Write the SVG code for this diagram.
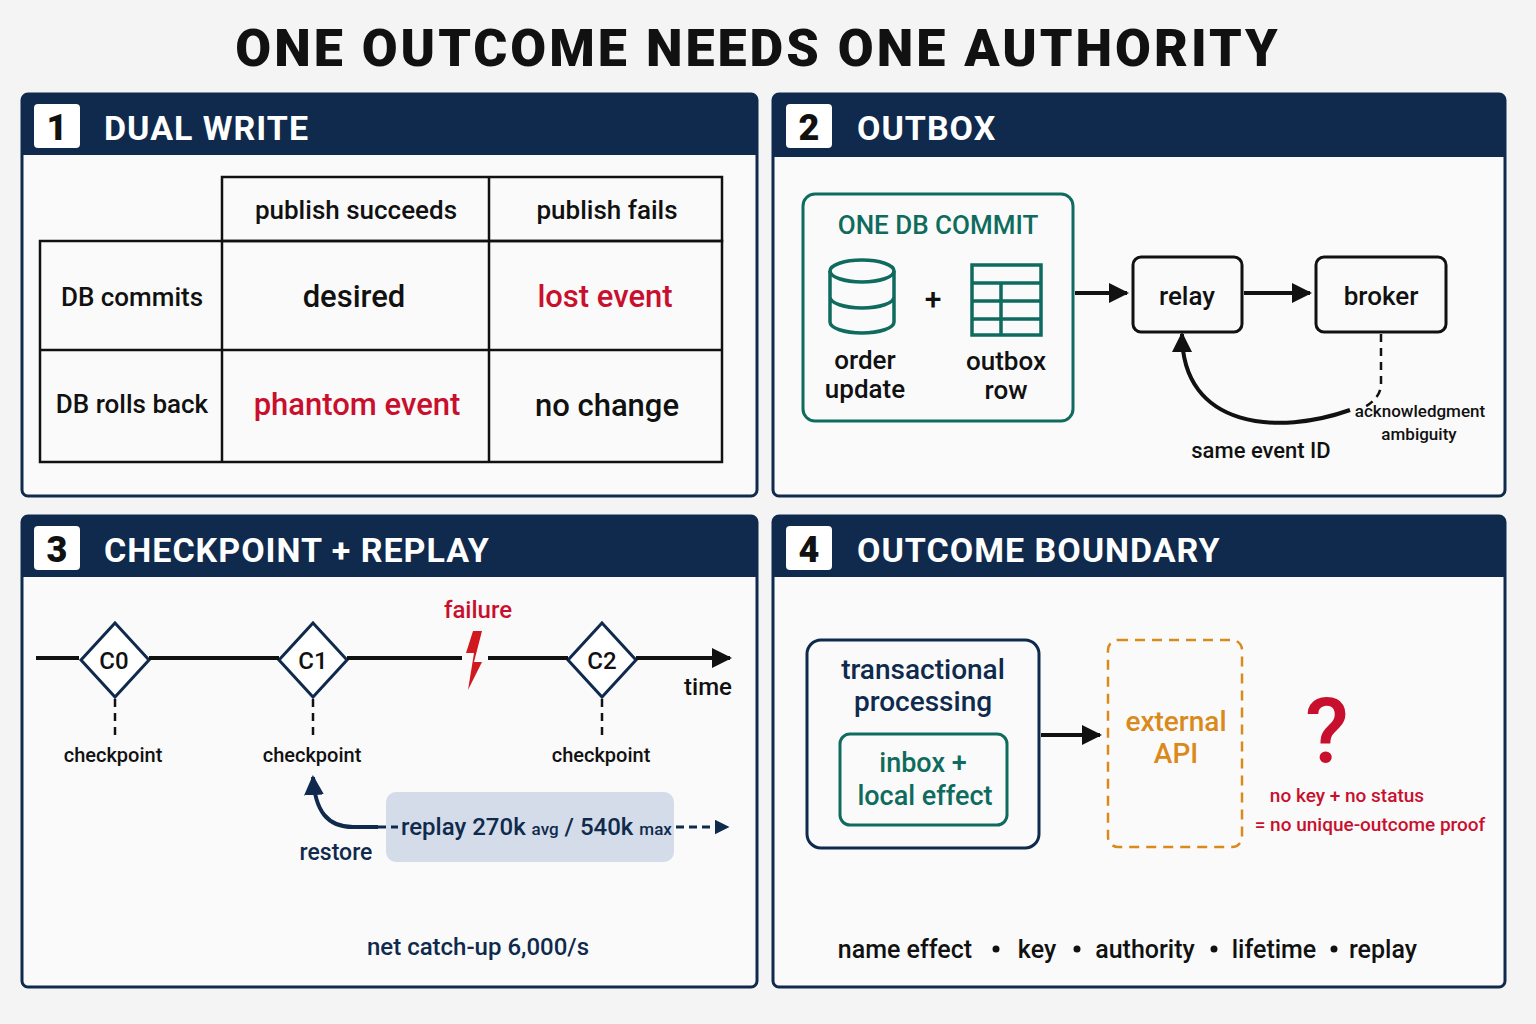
<svg xmlns="http://www.w3.org/2000/svg" width="1536" height="1024" viewBox="0 0 1536 1024">
<defs>
<style>
text{font-family:Roboto,"Liberation Sans",sans-serif;font-weight:500;fill:#111}
.title{font-size:52px;font-weight:900;letter-spacing:3px}
.hd{font-size:34px;font-weight:700;fill:#fff;letter-spacing:1px}
.num{font-size:36px;font-weight:900;fill:#111}
.panel{fill:#fafafa;stroke:#0f2a4d;stroke-width:3}
.bar{fill:#0f2a4d}
.cell{fill:none;stroke:#111;stroke-width:2.5}
.t26{font-size:26px}
.t30{font-size:31px}
.red{fill:#c8102e}
.teal{fill:#0e6b5e}
.navy{fill:#0f2a4d}
.orange{fill:#d98a1a}
.line{stroke:#111;stroke-width:4;fill:none}
.dash{stroke:#111;stroke-width:2.5;stroke-dasharray:8 6;fill:none}
</style>
<marker id="ah" viewBox="0 0 10 10" refX="9" refY="5" markerWidth="5" markerHeight="5" orient="auto"><path d="M0,0L10,5L0,10z" fill="#111"/></marker>
<marker id="ahn" viewBox="0 0 10 10" refX="9" refY="5" markerWidth="5" markerHeight="5" orient="auto"><path d="M0,0L10,5L0,10z" fill="#0f2a4d"/></marker>
</defs>
<rect width="1536" height="1024" fill="#f4f4f4"/>
<text class="title" x="758" y="66" text-anchor="middle">ONE OUTCOME NEEDS ONE AUTHORITY</text>

<g id="panel1">
<rect class="panel" x="22" y="94" width="735" height="402" rx="6"/>
<path class="bar" d="M28,94h723a6,6 0 0 1 6,6v55h-735v-55a6,6 0 0 1 6,-6z"/>
<rect x="34" y="104" width="46" height="44" rx="4" fill="#fff"/>
<text class="num" x="57" y="140" text-anchor="middle">1</text>
<text class="hd" x="104" y="140">DUAL WRITE</text>
<rect class="cell" x="222" y="177" width="500" height="64"/>
<rect class="cell" x="40" y="241" width="682" height="221"/>
<line class="cell" x1="489" y1="177" x2="489" y2="462"/>
<line class="cell" x1="222" y1="241" x2="222" y2="462"/>
<line class="cell" x1="40" y1="350" x2="722" y2="350"/>
<text class="t26" x="356" y="219" text-anchor="middle">publish succeeds</text>
<text class="t26" x="607" y="219" text-anchor="middle">publish fails</text>
<text class="t26" x="132" y="306" text-anchor="middle">DB commits</text>
<text class="t26" x="132" y="413" text-anchor="middle" font-size="25">DB rolls back</text>
<text class="t30" x="354" y="307" text-anchor="middle">desired</text>
<text class="t30 red" x="605" y="307" text-anchor="middle">lost event</text>
<text class="t30 red" x="357" y="415" text-anchor="middle">phantom event</text>
<text class="t30" x="607" y="416" text-anchor="middle">no change</text>
</g>

<g id="panel2">
<rect class="panel" x="773" y="94" width="732" height="402" rx="6"/>
<path class="bar" d="M779,94h720a6,6 0 0 1 6,6v57h-732v-57a6,6 0 0 1 6,-6z"/>
<rect x="786" y="104" width="46" height="44" rx="4" fill="#fff"/>
<text class="num" x="809" y="140" text-anchor="middle">2</text>
<text class="hd" x="857" y="140">OUTBOX</text>
</g>
<g id="commit">
<rect x="803" y="194" width="270" height="227" rx="12" fill="none" stroke="#0e6b5e" stroke-width="3"/>
<text class="teal" x="938" y="234" text-anchor="middle" font-size="26" font-weight="700">ONE DB COMMIT</text>
<g fill="none" stroke="#0e6b5e" stroke-width="3.5">
<ellipse cx="862" cy="271" rx="32" ry="11"/>
<path d="M830,271v51a32,11 0 0 0 64,0v-51M830,297a32,11 0 0 0 64,0"/>
<rect x="972" y="265" width="69" height="70"/>
<path d="M972,283h69M972,301h69M972,319h69M1001,283v52"/>
</g>
<text x="933" y="309" text-anchor="middle" font-size="30">+</text>
<text class="t26" x="865" y="369" text-anchor="middle" font-size="25">order</text>
<text class="t26" x="865" y="398" text-anchor="middle" font-size="25">update</text>
<text class="t26" x="1006" y="370" text-anchor="middle" font-size="25">outbox</text>
<text class="t26" x="1006" y="399" text-anchor="middle" font-size="25">row</text>
</g>
<g id="relay"><rect x="1133" y="257" width="109" height="75" rx="8" fill="none" stroke="#111" stroke-width="3"/><text class="t26" x="1187" y="305" text-anchor="middle">relay</text></g>
<g id="broker"><rect x="1316" y="257" width="130" height="75" rx="8" fill="none" stroke="#111" stroke-width="3"/><text class="t26" x="1381" y="305" text-anchor="middle">broker</text></g>
<text x="1420" y="417" text-anchor="middle" font-size="17">acknowledgment</text>
<text x="1419" y="440" text-anchor="middle" font-size="17">ambiguity</text>
<text x="1261" y="458" text-anchor="middle" font-size="22">same event ID</text>

<g id="panel3">
<rect class="panel" x="22" y="516" width="735" height="471" rx="6"/>
<path class="bar" d="M28,516h723a6,6 0 0 1 6,6v55h-735v-55a6,6 0 0 1 6,-6z"/>
<rect x="34" y="526" width="46" height="44" rx="4" fill="#fff"/>
<text class="num" x="57" y="562" text-anchor="middle">3</text>
<text class="hd" x="104" y="562">CHECKPOINT + REPLAY</text>
<rect x="386" y="792" width="288" height="70" rx="10" fill="#d3dce8"/>
<text class="navy" x="478" y="955" text-anchor="middle" font-size="24">net catch-up 6,000/s</text>
</g>
<g id="c0"><path d="M115,623l34,37l-34,37l-34,-37z" fill="#fff" stroke="#0f2a4d" stroke-width="3"/><text x="114" y="669" text-anchor="middle" font-size="24">C0</text>
<text x="113" y="762" text-anchor="middle" font-size="20">checkpoint</text></g>
<g id="c1"><path d="M313,623l34,37l-34,37l-34,-37z" fill="#fff" stroke="#0f2a4d" stroke-width="3"/><text x="313" y="669" text-anchor="middle" font-size="24">C1</text>
<text x="312" y="762" text-anchor="middle" font-size="20">checkpoint</text></g>
<g id="c2"><path d="M602,623l34,37l-34,37l-34,-37z" fill="#fff" stroke="#0f2a4d" stroke-width="3"/><text x="602" y="669" text-anchor="middle" font-size="24">C2</text>
<text x="601" y="762" text-anchor="middle" font-size="20">checkpoint</text></g>
<text class="red" x="478" y="618" text-anchor="middle" font-size="24">failure</text>
<path d="M473,631l-7,22h8l-6,37l14,-28h-8l8,-31z" fill="#d0191f"/>
<text x="708" y="695" text-anchor="middle" font-size="24">time</text>
<text class="navy" x="401" y="835" font-size="24">replay  270k <tspan font-size="17">avg</tspan> / 540k <tspan font-size="17">max</tspan></text>
<text class="navy" x="336" y="860" text-anchor="middle" font-size="23">restore</text>

<g id="panel4">
<rect class="panel" x="773" y="516" width="732" height="471" rx="6"/>
<path class="bar" d="M779,516h720a6,6 0 0 1 6,6v55h-732v-55a6,6 0 0 1 6,-6z"/>
<rect x="786" y="526" width="46" height="44" rx="4" fill="#fff"/>
<text class="num" x="809" y="562" text-anchor="middle">4</text>
<text class="hd" x="857" y="562">OUTCOME BOUNDARY</text>
<text x="905" y="958" text-anchor="middle" font-size="25">name effect</text>
<text x="1037" y="958" text-anchor="middle" font-size="25">key</text>
<text x="1145" y="958" text-anchor="middle" font-size="25">authority</text>
<text x="1274" y="958" text-anchor="middle" font-size="25">lifetime</text>
<text x="1383" y="958" text-anchor="middle" font-size="25">replay</text>
<g fill="#111"><circle cx="996" cy="949" r="3.5"/><circle cx="1077" cy="949" r="3.5"/><circle cx="1214" cy="949" r="3.5"/><circle cx="1334" cy="949" r="3.5"/></g>
</g>
<g id="tx">
<rect x="807" y="640" width="232" height="208" rx="14" fill="none" stroke="#0f2a4d" stroke-width="3"/>
<text class="navy" x="923" y="679" text-anchor="middle" font-size="28">transactional</text>
<text class="navy" x="923" y="711" text-anchor="middle" font-size="28">processing</text>
<rect x="840" y="734" width="167" height="91" rx="10" fill="none" stroke="#0e6b5e" stroke-width="3"/>
<text class="teal" x="923" y="772" text-anchor="middle" font-size="27">inbox +</text>
<text class="teal" x="925" y="805" text-anchor="middle" font-size="27">local effect</text>
</g>
<g id="api">
<rect x="1108" y="640" width="134" height="207" rx="10" fill="none" stroke="#d98a1a" stroke-width="2.5" stroke-dasharray="10 7"/>
<text class="orange" x="1176" y="731" text-anchor="middle" font-size="28">external</text>
<text class="orange" x="1176" y="763" text-anchor="middle" font-size="28">API</text>
</g>
<text class="red" x="1327" y="762" text-anchor="middle" font-size="90" font-weight="900">?</text>
<text class="red" x="1347" y="802" text-anchor="middle" font-size="19">no key + no status</text>
<text class="red" x="1370" y="831" text-anchor="middle" font-size="19">= no unique-outcome proof</text>

<g id="connectors">
<line class="line" x1="1075" y1="293" x2="1127" y2="293" marker-end="url(#ah)"/>
<line class="line" x1="1244" y1="293" x2="1310" y2="293" marker-end="url(#ah)"/>
<path class="dash" d="M1381,334v50q0,15 -20,25"/>
<path class="line" d="M1350,410c-70,25 -168,20 -168,-76" marker-end="url(#ah)"/>
<path d="M36,658H79M149,658H279M347,658H462M488,658H568M636,658H730" class="line" marker-end="url(#ah)"/>
<line class="dash" x1="115" y1="699" x2="115" y2="740"/>
<line class="dash" x1="313" y1="699" x2="313" y2="740"/>
<line class="dash" x1="602" y1="699" x2="602" y2="740"/>
<path d="M378,827h-25c-25,0 -38,-15 -40,-50" stroke="#0f2a4d" stroke-width="4" fill="none" marker-end="url(#ahn)"/>
<path d="M378,827h20" stroke="#0f2a4d" stroke-width="3" stroke-dasharray="8 5"/>
<path d="M676,827h52" stroke="#0f2a4d" stroke-width="3" stroke-dasharray="8 5" marker-end="url(#ahn)"/>
<line class="line" x1="1041" y1="735" x2="1100" y2="735" marker-end="url(#ah)"/>
</g>
</svg>
